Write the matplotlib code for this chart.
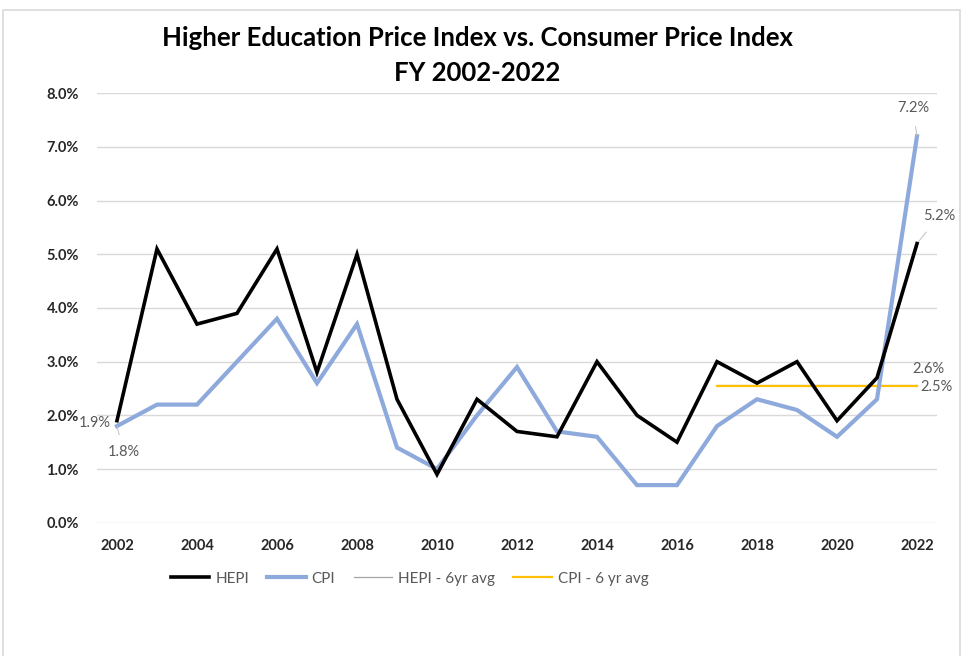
import matplotlib
matplotlib.use('Agg')
import matplotlib.pyplot as plt
from matplotlib.patches import Rectangle
from matplotlib.ticker import FuncFormatter, MultipleLocator

# --- Data ---
years = list(range(2002, 2023))
hepi = [1.9, 5.1, 3.7, 3.9, 5.1, 2.8, 5.0, 2.3, 0.9, 2.3, 1.7,
        1.6, 3.0, 2.0, 1.5, 3.0, 2.6, 3.0, 1.9, 2.7, 5.2]
cpi = [1.8, 2.2, 2.2, 3.0, 3.8, 2.6, 3.7, 1.4, 1.0, 2.0, 2.9,
       1.7, 1.6, 0.7, 0.7, 1.8, 2.3, 2.1, 1.6, 2.3, 7.2]
avg_years = [2017, 2022]
hepi_avg = 2.56
cpi_avg = 2.55
hepi_avg_label = "2.6%"
cpi_avg_label = "2.5%"

FONT = ["Lato", "DejaVu Sans"]
LABEL_C = "#595959"
COLOR = {"HEPI": "#000000", "CPI": "#8EA9DB", "HEPI_avg": "#A5A5A5",
         "CPI_avg": "#FFC000", "grid": "#D9D9D9"}

plt.rcParams["font.family"] = FONT

fig = plt.figure(figsize=(9.64, 6.56), dpi=100)
fig.patches.append(Rectangle((3 / 964, -0.01), 957 / 964, 1 - 10 / 656 + 0.01,
                             transform=fig.transFigure, fill=False,
                             edgecolor="#D9D9D9", lw=1.2))

ax = fig.add_axes([0.1006, 0.2032, 0.8714, 0.6546])
ax.plot(years, hepi, color=COLOR["HEPI"], lw=2.6, zorder=4,
        solid_joinstyle="miter", label="HEPI")
ax.plot(years, cpi, color=COLOR["CPI"], lw=3.0, zorder=3,
        solid_joinstyle="miter", label="CPI")
ax.plot(avg_years, [hepi_avg] * 2, color=COLOR["HEPI_avg"], lw=0.9, zorder=2,
        label="HEPI - 6yr avg")
ax.plot(avg_years, [cpi_avg] * 2, color=COLOR["CPI_avg"], lw=1.6, zorder=2,
        label="CPI - 6 yr avg")

ax.set_xlim(2001.5, 2022.5)
ax.set_ylim(0, 8)
ax.yaxis.set_major_locator(MultipleLocator(1))
ax.yaxis.set_major_formatter(FuncFormatter(lambda v, p: f"{v:.1f}%"))
ax.set_xticks(years[::2])
ax.grid(axis="y", color=COLOR["grid"], lw=1.0, zorder=0)
for sp in ax.spines.values():
    sp.set_visible(False)
ax.tick_params(axis="both", length=0, labelsize=10.5, labelcolor="#262626")
ax.tick_params(axis="x", pad=12)
ax.tick_params(axis="y", pad=13)
for lbl in ax.get_xticklabels() + ax.get_yticklabels():
    lbl.set_fontweight("bold")

# --- Data labels ---
lab = dict(fontsize=10.5, color=LABEL_C, textcoords="offset points")
ax.annotate(f"{hepi[0]:.1f}%", xy=(years[0], hepi[0]), xytext=(-16, -2),
            ha="center", va="center", **lab)
ax.annotate(f"{cpi[0]:.1f}%", xy=(years[0], cpi[0]), xytext=(5, -19),
            ha="center", va="center",
            arrowprops=dict(arrowstyle="-", color="#BFBFBF", lw=0.7,
                            shrinkA=6, shrinkB=0), **lab)
ax.annotate(f"{cpi[-1]:.1f}%", xy=(years[-1], cpi[-1]), xytext=(-3, 20),
            ha="center", va="center",
            arrowprops=dict(arrowstyle="-", color="#BFBFBF", lw=0.7,
                            shrinkA=6, shrinkB=0), **lab)
ax.annotate(f"{hepi[-1]:.1f}%", xy=(years[-1], hepi[-1]), xytext=(16, 20),
            ha="center", va="center",
            arrowprops=dict(arrowstyle="-", color="#BFBFBF", lw=0.7,
                            shrinkA=6, shrinkB=0), **lab)
ax.annotate(hepi_avg_label, xy=(avg_years[1], hepi_avg), xytext=(8, 12),
            ha="center", va="center", **lab)
ax.annotate(cpi_avg_label, xy=(avg_years[1], cpi_avg), xytext=(14, -1),
            ha="center", va="center", **lab)

fig.text(0.495, 0.942, "Higher Education Price Index vs. Consumer Price Index",
         ha="center", va="center", fontsize=18.5, fontweight="bold", color="#000000")
fig.text(0.495, 0.889, "FY 2002-2022", ha="center", va="center",
         fontsize=18.5, fontweight="bold", color="#000000")

leg = fig.legend(loc="center", bbox_to_anchor=(0.425, 0.118), ncol=4,
                 frameon=False, fontsize=11, handlelength=2.5,
                 columnspacing=1.2, handletextpad=0.4)
for t in leg.get_texts():
    t.set_color(LABEL_C)

fig.savefig("out.png", dpi=100, facecolor="white")
